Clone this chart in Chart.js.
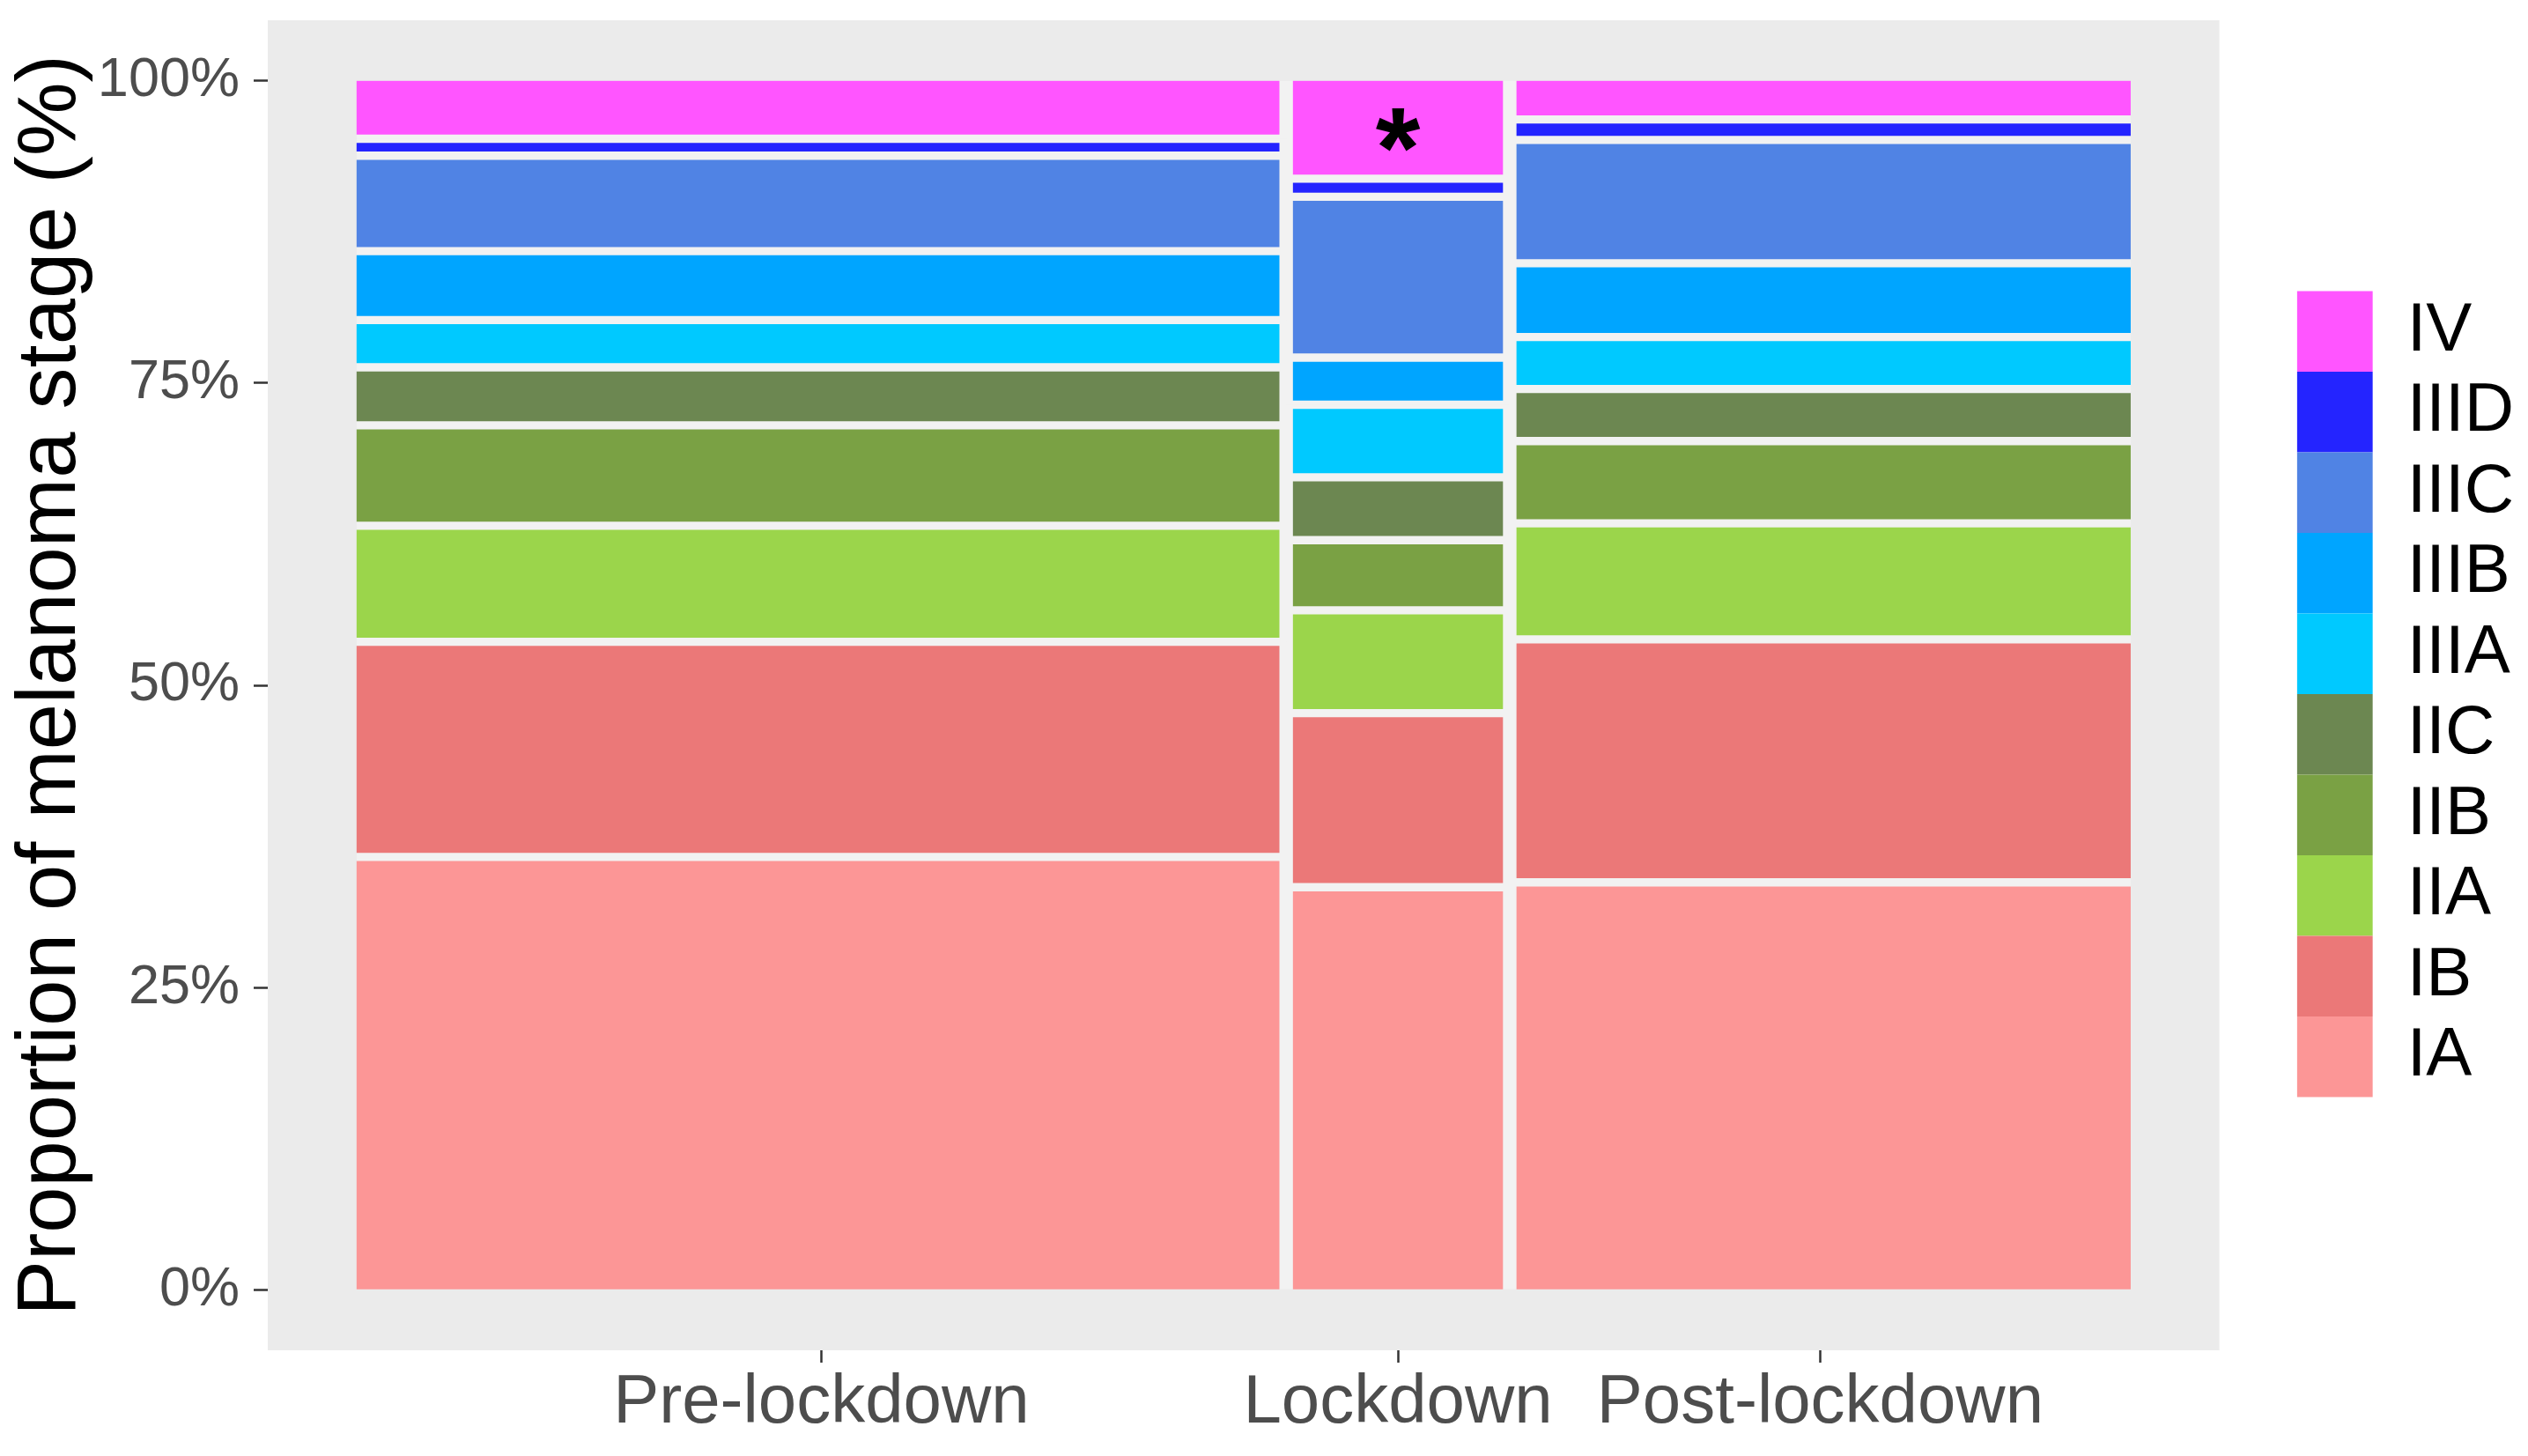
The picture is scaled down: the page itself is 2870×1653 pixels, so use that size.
<!DOCTYPE html>
<html>
<head>
<meta charset="utf-8">
<script src="https://cdn.jsdelivr.net/npm/chart.js@4.4.1/dist/chart.umd.min.js"></script>
<style>
  html, body { margin: 0; padding: 0; background: #ffffff; }
  canvas { display: block; }
</style>
</head>
<body>
<canvas id="c" width="2870" height="1653"></canvas>
<script>
// ---------------- data ----------------
const periods = ['Pre-lockdown', 'Lockdown', 'Post-lockdown'];
const periodShare = [52.4, 12.6, 35.0];            // column widths (share of patients, %)
const stages = ['IA', 'IB', 'IIA', 'IIB', 'IIC', 'IIIA', 'IIIB', 'IIIC', 'IIID', 'IV'];
const preLockdown  = [35.8, 17.8, 9.6, 8.3, 4.8, 3.9, 5.7, 7.9, 1.4, 4.8];
const lockdown     = [33.3, 14.4, 8.5, 5.8, 5.2, 6.0, 3.9, 13.3, 1.5, 8.1];
const postLockdown = [33.7, 20.1, 9.6, 6.8, 4.3, 4.3, 6.1, 10.2, 1.7, 3.2];
const yTicks = [0, 25, 50, 75, 100];
const markPeriod = 'Lockdown';
const markStage = 'IV';
const markText = '*';

// ---------------- styles ----------------
const stageColors = ['#FC9696', '#EB7878', '#9BD54B', '#7AA144', '#6C8751',
                     '#00C9FF', '#00A5FF', '#5083E4', '#2424FF', '#FF55FF'];
const PANEL = '#EBEBEB';
const GAP = '#F2F2F2';
const FONT = "'Liberation Sans', Arial, sans-serif";

function hasFont(name) {
  const c = document.createElement('canvas').getContext('2d');
  c.font = '100px monospace';
  const a = c.measureText('100% Wij').width;
  c.font = '100px "' + name + '", monospace';
  return Math.abs(c.measureText('100% Wij').width - a) > 0.5;
}
const narrow = hasFont('Liberation Sans Narrow');
const yTickFont = narrow
  ? { family: "'Liberation Sans Narrow', 'Liberation Sans', Arial, sans-serif", size: 70, lineHeight: 0.1 }
  : { family: FONT, size: 63, lineHeight: 0.1 };

// ---------------- derived geometry (data units) ----------------
const shareTotal = periodShare.reduce((a, b) => a + b, 0);
const x0s = [], x1s = [], centers = [];
{
  let acc = 0;
  periodShare.forEach(s => {
    const w = s / shareTotal * 100;
    x0s.push(acc); x1s.push(acc + w); centers.push(acc + w / 2);
    acc += w;
  });
}
const seriesValues = [preLockdown, lockdown, postLockdown];

const datasets = seriesValues.map((vals, p) => {
  const tot = vals.reduce((a, b) => a + b, 0);
  let cum = 0;
  const data = vals.map(v => {
    const lo = cum; cum += v / tot * 100;
    return { x: centers[p], y: [lo, cum] };
  });
  return {
    label: periods[p],
    data,
    backgroundColor: stageColors,
    borderColor: GAP,
    borderSkipped: false,
    borderWidth: ctx => ({
      top: ctx.dataIndex === stages.length - 1 ? 0 : 5,
      bottom: ctx.dataIndex === 0 ? 0 : 5,
      left: p === 0 ? 0 : 8,
      right: p === periods.length - 1 ? 0 : 8
    }),
    grouped: false,
    barThickness: 10
  };
});

const panelPlugin = {
  id: 'panel',
  beforeDraw(chart) {
    const { ctx, chartArea: a } = chart;
    ctx.save();
    ctx.fillStyle = PANEL;
    ctx.fillRect(a.left, a.top, a.right - a.left, a.bottom - a.top);
    ctx.restore();
  }
};

const markPlugin = {
  id: 'mark',
  afterDatasetsDraw(chart) {
    const p = periods.indexOf(markPeriod), s = stages.indexOf(markStage);
    const el = chart.getDatasetMeta(p).data[s];
    if (!el) return;
    const ctx = chart.ctx;
    const cx = el.x, cy = (el.y + el.base) / 2;
    ctx.save();
    ctx.font = 'bold 130px ' + FONT;
    ctx.fillStyle = '#000000';
    ctx.textAlign = 'center';
    ctx.textBaseline = 'alphabetic';
    const m = ctx.measureText(markText);
    ctx.fillText(markText, cx, cy + (m.actualBoundingBoxAscent - m.actualBoundingBoxDescent) / 2);
    ctx.restore();
  }
};

const chart = new Chart(document.getElementById('c'), {
  type: 'bar',
  data: { datasets },
  plugins: [panelPlugin, markPlugin],
  options: {
    responsive: false,
    devicePixelRatio: 1,
    animation: false,
    layout: { padding: { top: 23, right: 6, bottom: 0, left: 0 } },
    plugins: {
      tooltip: { enabled: false },
      legend: {
        position: 'right',
        align: 'center',
        fullSize: false,
        title: { display: true, text: '', font: { size: 1 }, padding: { top: 0, bottom: 19 } },
        labels: {
          boxWidth: 86,
          boxHeight: 91.5,
          padding: 0,
          color: '#000000',
          font: { family: FONT, size: 78 },
          generateLabels: () => stages.map((s, i) => ({
            text: s, fillStyle: stageColors[i], strokeStyle: stageColors[i],
            fontColor: '#000000', lineWidth: 0, hidden: false, index: i
          })).reverse()
        }
      }
    },
    scales: {
      x: {
        type: 'linear',
        min: -5, max: 105,
        offset: false,
        afterBuildTicks: s => { s.ticks = centers.map(v => ({ value: v })); },
        afterFit: s => { s.height = 120; },
        ticks: {
          autoSkip: false, maxRotation: 0, minRotation: 0, padding: 0,
          color: '#4D4D4D', font: { family: FONT, size: 78 },
          callback: (v, i) => periods[i]
        },
        grid: { display: true, drawOnChartArea: false, drawTicks: true, tickLength: 14,
                tickColor: '#333333', tickWidth: 2.5, offset: false },
        border: { display: false }
      },
      y: {
        type: 'linear',
        min: -5, max: 105,
        afterBuildTicks: s => { s.ticks = yTicks.map(v => ({ value: v })); },
        afterFit: s => { s.width = 304; },
        ticks: { color: '#4D4D4D', font: yTickFont, padding: 16, callback: v => v + '%' },
        grid: { display: true, drawOnChartArea: false, drawTicks: true, tickLength: 16,
                tickColor: '#333333', tickWidth: 2.5 },
        border: { display: false },
        title: {
          display: true, text: 'Proportion of melanoma stage (%)', color: '#000000',
          font: { family: FONT, size: 94 }, padding: { top: 3, bottom: 0 }
        }
      },
      spacer: {
        type: 'linear', position: 'right', display: true,
        ticks: { display: false }, grid: { display: false }, border: { display: false },
        afterFit: s => { s.width = 88; }
      }
    }
  }
});

// bar widths follow the column shares, converted through the x scale
const xs = chart.scales.x;
chart.data.datasets.forEach((ds, p) => {
  ds.barThickness = xs.getPixelForValue(x1s[p]) - xs.getPixelForValue(x0s[p]);
});
chart.update();
</script>
</body>
</html>
